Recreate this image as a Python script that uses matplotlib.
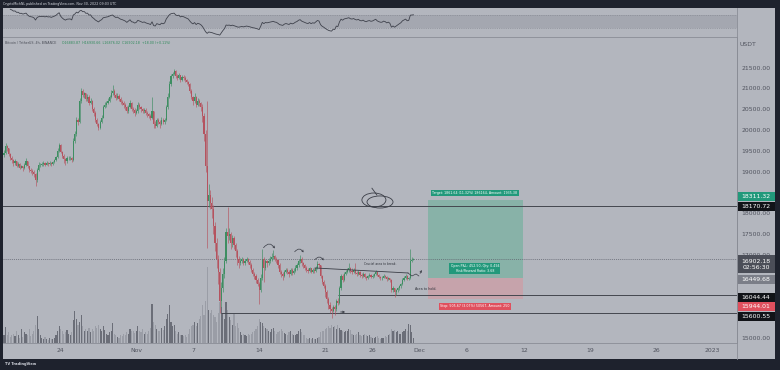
import numpy as np
import pandas as pd
import matplotlib
matplotlib.use('Agg')
import matplotlib.pyplot as plt
import matplotlib.dates as mdates
from matplotlib.patches import Rectangle, Ellipse
from matplotlib.ticker import FormatStrFormatter

# BTC/USDT 4h candles, 2022-10-18 00:00 -> 2022-11-30 08:00 UTC
first_open = 19400.0
closes = [
    19450, 19620, 19560, 19420, 19330, 19280,  # Oct 18
    19200, 19250, 19150, 19180, 19100, 19130,
    19080, 19160, 19250, 19130, 19050, 19020,
    19000, 18950, 18800, 19050, 19160, 19170,
    19190, 19200, 19170, 19220, 19190, 19210,
    19180, 19230, 19280, 19350, 19500, 19650,
    19480, 19380, 19300, 19250, 19320, 19330,  # Oct 24
    19340, 19290, 19750, 19900, 20250, 20200,
    20700, 20950, 20850, 20880, 20750, 20800,
    20650, 20700, 20500, 20400, 20250, 20150,
    20050, 20200, 20300, 20550, 20600, 20650,
    20700, 20800, 20900, 20950, 20850, 20780,
    20820, 20750, 20680, 20650, 20600, 20550,
    20450, 20550, 20650, 20500, 20480, 20400,
    20450, 20600, 20550, 20500, 20450, 20480,  # Nov 1
    20420, 20380, 20350, 20300, 20450, 20150,
    20100, 20250, 20200, 20150, 20250, 20200,
    20250, 20550, 20800, 21100, 21300, 21350,
    21420, 21300, 21250, 21320, 21200, 21280,
    21250, 21200, 21150, 21100, 20950, 20800,
    20700, 20800, 20600, 20700, 20650, 20550,  # Nov 7
    20350, 19900, 19150, 18300, 18450, 18250,
    18100, 17700, 17300, 16900, 16600, 15900,
    16200, 16550, 16850, 17550, 17450, 17500,
    17300, 17400, 17250, 17100, 16900, 16800,
    16850, 16900, 16800, 16850, 16900, 16830,
    16750, 16650, 16550, 16500, 16400, 16300,
    16150, 16450, 16900, 16700, 16850, 16800,  # Nov 14
    16850, 16900, 16950, 16980, 16900, 16870,
    16750, 16600, 16550, 16500, 16600, 16650,
    16600, 16550, 16650, 16580, 16620, 16700,
    16750, 16850, 16900, 16800, 16750, 16700,
    16650, 16620, 16680, 16600, 16650, 16620,
    16700, 16780, 16750, 16500, 16350, 16250,
    16100, 15950, 15800, 15700, 15650, 15750,  # Nov 21
    15700, 15900, 15850, 16200, 16500, 16400,
    16550, 16600, 16650, 16700, 16620, 16600,
    16650, 16580, 16550, 16600, 16520, 16500,
    16550, 16480, 16450, 16500, 16520, 16480,
    16500, 16550, 16600, 16520, 16480, 16450,
    16450, 16500, 16480, 16420, 16450, 16400,
    16150, 16200, 16100, 16150, 16200, 16250,  # Nov 28
    16300, 16400, 16450, 16500, 16420, 16440,
    16860, 16883.87, 16902.18,
]
highs = [
    19520, 19690, 19650, 19580, 19460, 19370,
    19310, 19300, 19270, 19230, 19200, 19170,
    19150, 19200, 19340, 19270, 19150, 19090,
    19060, 19040, 18980, 19100, 19240, 19220,
    19230, 19250, 19230, 19260, 19240, 19250,
    19230, 19260, 19310, 19390, 19560, 19690,
    19660, 19510, 19420, 19340, 19370, 19380,
    19390, 19350, 19800, 19980, 20310, 20280,
    20760, 21020, 20990, 20920, 20900, 20860,
    20840, 20760, 20720, 20550, 20450, 20300,
    20180, 20250, 20360, 20600, 20680, 20700,
    20760, 20850, 20960, 21080, 20980, 20880,
    20880, 20860, 20790, 20720, 20700, 20640,
    20580, 20600, 20730, 20680, 20560, 20520,
    20500, 20680, 20650, 20580, 20530, 20520,
    20520, 20460, 20420, 20380, 20800, 20470,
    20220, 20300, 20280, 20240, 20310, 20290,
    20300, 20600, 20880, 21180, 21360, 21400,
    21480, 21440, 21340, 21370, 21330, 21320,
    21320, 21290, 21230, 21180, 21130, 20980,
    20830, 20880, 20820, 20760, 20740, 20680,
    20620, 20400, 20000, 20700, 18700, 18550,
    18400, 18200, 17800, 17400, 17000, 16700,
    16350, 16700, 16950, 17650, 18150, 17650,
    17550, 17480, 17450, 17300, 17150, 16980,
    16920, 16950, 16930, 16900, 16960, 16920,
    16880, 16800, 16700, 16600, 16550, 16450,
    16350, 16550, 17150, 16950, 16900, 16890,
    16920, 16980, 17050, 17130, 17000, 16950,
    16900, 16800, 16650, 16600, 16650, 16700,
    16680, 16650, 16700, 16700, 16680, 16760,
    16800, 16900, 17000, 16950, 16840, 16790,
    16740, 16700, 16720, 16700, 16690, 16680,
    16740, 16850, 16820, 16770, 16530, 16400,
    16300, 16150, 16000, 15860, 15760, 15800,
    15800, 15950, 15960, 16250, 16550, 16550,
    16600, 16640, 16700, 16800, 16720, 16680,
    16700, 16800, 16620, 16650, 16620, 16560,
    16590, 16560, 16500, 16530, 16560, 16540,
    16540, 16580, 16650, 16620, 16550, 16500,
    16490, 16540, 16520, 16500, 16480, 16460,
    16420, 16260, 16220, 16190, 16240, 16280,
    16340, 16450, 16500, 16550, 16520, 16480,
    17150, 16950, 16930.66,
]
lows = [
    19360, 19420, 19500, 19380, 19290, 19220,
    19150, 19170, 19110, 19120, 19060, 19080,
    19030, 19060, 19140, 19100, 19000, 18970,
    18930, 18880, 18650, 18760, 19020, 19110,
    19130, 19150, 19140, 19160, 19150, 19170,
    19140, 19160, 19210, 19260, 19330, 19470,
    19440, 19330, 19220, 19160, 19220, 19280,
    19280, 19230, 19270, 19700, 19860, 20120,
    20180, 20660, 20800, 20780, 20700, 20710,
    20600, 20620, 20460, 20350, 20200, 20090,
    20000, 20020, 20160, 20280, 20520, 20560,
    20620, 20680, 20770, 20850, 20800, 20730,
    20740, 20700, 20620, 20600, 20540, 20480,
    20400, 20420, 20520, 20470, 20420, 20350,
    20380, 20420, 20500, 20440, 20400, 20410,
    20370, 20320, 20290, 20250, 20260, 20060,
    20040, 20070, 20150, 20050, 20120, 20150,
    20150, 20230, 20500, 20760, 21050, 21250,
    21320, 21260, 21200, 21220, 21150, 21180,
    21200, 21150, 21100, 21050, 20900, 20750,
    20600, 20660, 20550, 20580, 20580, 20470,
    20200, 19750, 19000, 17170, 18150, 18100,
    17900, 17500, 17100, 16700, 16300, 15600,
    15750, 16100, 16450, 16800, 17300, 17350,
    17150, 17200, 17150, 16950, 16750, 16700,
    16750, 16820, 16760, 16770, 16830, 16780,
    16700, 16600, 16500, 16420, 16330, 16250,
    15820, 16100, 16400, 16350, 16650, 16720,
    16760, 16800, 16860, 16900, 16850, 16800,
    16700, 16550, 16480, 16400, 16480, 16560,
    16540, 16480, 16520, 16530, 16550, 16590,
    16650, 16720, 16800, 16740, 16700, 16640,
    16600, 16580, 16590, 16560, 16570, 16580,
    16590, 16660, 16690, 16460, 16300, 16200,
    16000, 15850, 15700, 15600, 15480, 15620,
    15550, 15660, 15800, 15820, 16150, 16350,
    16380, 16520, 16560, 16600, 16580, 16550,
    16560, 16540, 16500, 16520, 16480, 16460,
    16480, 16440, 16400, 16430, 16470, 16440,
    16450, 16480, 16530, 16500, 16440, 16400,
    16400, 16440, 16440, 16380, 16400, 16350,
    16100, 16120, 16000, 16050, 16120, 16170,
    16220, 16280, 16370, 16430, 16390, 16400,
    16420, 16830, 16876.02,
]
# volume, thousand BTC
volumes = [
    26, 52, 26, 36, 20, 26,
    30, 22, 40, 25, 18, 45,
    20, 35, 30, 28, 45, 22,
    30, 40, 60, 88, 45, 25,
    15, 12, 20, 14, 10, 18,
    14, 12, 18, 25, 40, 55,
    45, 38, 30, 35, 42, 30,
    28, 35, 75, 105, 80, 60,
    70, 92, 55, 40, 45, 38,
    50, 35, 45, 40, 55, 48,
    60, 45, 38, 55, 42, 30,
    28, 35, 40, 65, 30, 25,
    20, 18, 25, 22, 30, 28,
    35, 30, 45, 40, 38, 33,
    40, 55, 38, 35, 45, 30,
    35, 30, 40, 50, 130, 70,
    60, 45, 40, 38, 50, 42,
    55, 80, 95, 127, 70, 55,
    60, 40, 30, 35, 28, 25,
    22, 25, 20, 30, 45, 55,
    60, 70, 55, 65, 80, 90,
    125, 92, 140, 250, 110, 100,
    108, 92, 85, 70, 100, 135,
    120, 95, 80, 135, 110, 85,
    75, 60, 95, 55, 65, 50,
    35, 28, 30, 25, 22, 30,
    25, 30, 35, 40, 45, 55,
    80, 70, 65, 55, 50, 45,
    40, 35, 45, 50, 38, 30,
    35, 40, 45, 38, 32, 30,
    28, 35, 40, 30, 25, 28,
    30, 38, 45, 35, 28, 25,
    15, 12, 18, 14, 16, 12,
    14, 18, 20, 35, 40, 38,
    45, 50, 55, 48, 60, 52,
    55, 45, 60, 50, 42, 38,
    35, 40, 38, 45, 42, 30,
    28, 25, 30, 35, 28, 22,
    25, 30, 28, 22, 26, 20,
    18, 15, 20, 22, 16, 14,
    15, 18, 22, 20, 25, 30,
    45, 38, 42, 35, 40, 30,
    30, 35, 40, 45, 38, 62,
    60, 35, 15,
]

date_ticks = ['2022-10-24', '2022-11-01', '2022-11-07', '2022-11-14', '2022-11-21',
              '2022-11-26', '2022-12-01', '2022-12-06', '2022-12-12', '2022-12-19',
              '2022-12-26', '2023-01-01']
date_labels = ['24', 'Nov', '7', '14', '21', '26', 'Dec', '6', '12', '19', '26', '2023']
price_ticks = [15000, 17000, 17500, 18000, 19000, 19500, 20000, 20500, 21000, 21500]

resistance = 18170.72
support = 16044.44
bottom_line = 15600.55
last_price = 16902.18
entry, target, stop = 16449.68, 18311.32, 15944.01

BG = '#b3b6be'
DARK = '#1e222d'
TXT = '#50535e'
UP = '#3e8e62'
DOWN = '#b5535f'

c = np.array(closes, dtype=float)
o = np.r_[first_open, c[:-1]]
h = np.maximum(np.array(highs, dtype=float), np.maximum(o, c))
l = np.minimum(np.array(lows, dtype=float), np.minimum(o, c))
times = pd.date_range('2022-10-18 00:00', periods=len(c), freq='4h')
t = mdates.date2num(times)

# RSI 14 (Wilder)
delta = pd.Series(c).diff()
avg_gain = delta.clip(lower=0).ewm(alpha=1/14, adjust=False).mean()
avg_loss = (-delta.clip(upper=0)).ewm(alpha=1/14, adjust=False).mean()
rsi = 100 - 100 / (1 + avg_gain / avg_loss)

fig = plt.figure(figsize=(7.8, 3.7), dpi=100)
fig.patch.set_facecolor(DARK)
fig.add_artist(Rectangle((3/780, 1-359/370), 772/780, 351/370, transform=fig.transFigure,
                         facecolor=BG, edgecolor='none', zorder=0))

ax = fig.add_axes([3/780, 1-343/370, 734/780, 306/370])
ind = fig.add_axes([3/780, 1-37/370, 734/780, 29/370], sharex=ax)
vol = ax.twinx()
ax.set_zorder(vol.get_zorder() + 1)
ax.patch.set_visible(False)
vol.patch.set_visible(False)

d24 = mdates.date2num(pd.Timestamp('2022-10-24'))
ax.set_xlim(d24 - 6.106, d24 + 71.57)
ax.set_ylim(14887, 22237)

# volume
up = c >= o
vol.bar(t, volumes, width=0.12, color=np.where(up, '#6b6e78', '#9a9da6'), linewidth=0)
vol.set_ylim(0, 1010)
vol.set_axis_off()

# candles
col = np.where(up, UP, DOWN)
ax.vlines(t, l, h, colors=col, lw=0.45, zorder=4)
ax.bar(t, np.abs(c - o), bottom=np.minimum(o, c), width=0.12, color=col, linewidth=0, zorder=4)

# long position tool
x0 = mdates.date2num(pd.Timestamp('2022-12-01 21:00'))
x1 = mdates.date2num(pd.Timestamp('2022-12-11 22:00'))
ax.add_patch(Rectangle((x0, entry), x1 - x0, target - entry, facecolor='#88b2a8', edgecolor='none', zorder=1))
ax.add_patch(Rectangle((x0, stop), x1 - x0, entry - stop, facecolor='#c6a3ab', edgecolor='none', zorder=1))
xm = mdates.date2num(pd.Timestamp('2022-12-06 20:00'))
ax.text(xm, 18490, 'Target: 1861.64 (11.32%) 186164, Amount: 1935.38', fontsize=2.3, color='white',
        ha='center', va='center', zorder=6, bbox=dict(boxstyle='square,pad=0.4', fc='#22997b', ec='none'))
ax.text(xm, 16677, 'Open P&L: 452.50, Qty: 0.494\nRisk/Reward Ratio: 3.68', fontsize=2.3, color='white',
        ha='center', va='center', linespacing=1.1, zorder=6,
        bbox=dict(boxstyle='square,pad=0.4', fc='#22997b', ec='none'))
ax.text(xm, 15764, 'Stop: 505.67 (3.07%) 50567, Amount: 250', fontsize=2.3, color='white',
        ha='center', va='center', zorder=6, bbox=dict(boxstyle='square,pad=0.4', fc='#e0505e', ec='none'))

# horizontal levels
ax.axhline(resistance, color='#44474f', lw=0.7, zorder=2)
ax.axhline(last_price, color='#5d606b', lw=0.5, ls=(0, (1.5, 1.5)), zorder=2)
xs = mdates.date2num(pd.Timestamp('2022-11-22 08:00'))
ax.hlines(support, xs, ax.get_xlim()[1], color='#44474f', lw=0.7, zorder=2)
xb = mdates.date2num(pd.Timestamp('2022-11-09 23:00'))
ax.hlines(bottom_line, xb, ax.get_xlim()[1], color='#44474f', lw=0.7, zorder=2)

# drawings
def d(s):
    return mdates.date2num(pd.Timestamp(s))

ink = '#3a3d46'
ax.plot([d('2022-11-19 22:00'), d('2022-11-29 18:00')], [16689, 16569], color=ink, lw=0.6, zorder=5)
ax.plot([d('2022-11-29 18:00'), d('2022-11-30 04:00'), d('2022-11-30 14:30'), d('2022-11-30 21:40')],
        [16569, 16497, 16545, 16497], color=ink, lw=0.5, zorder=5)
ax.annotate('', xy=(d('2022-12-01 08:00'), 16700), xytext=(d('2022-11-30 21:40'), 16497),
            arrowprops=dict(arrowstyle='->', lw=0.5, color=ink, mutation_scale=3), zorder=5)
ax.text(d('2022-11-26 19:00'), 16785, 'Crucial area to break.', fontsize=2.2, color='#2e3139',
        ha='center', va='center', zorder=6)
ax.text(d('2022-11-30 12:00'), 16184, 'Area to hold.', fontsize=2.4, color='#2e3139',
        ha='left', va='center', zorder=6)
for a, b, pa, pb in [('2022-11-14 07:00', '2022-11-15 19:00', 17121, 17097),
                     ('2022-11-17 14:00', '2022-11-18 20:00', 17025, 17001),
                     ('2022-11-19 17:00', '2022-11-20 23:00', 16833, 16809)]:
    ax.annotate('', xy=(d(b), pb), xytext=(d(a), pa),
                arrowprops=dict(arrowstyle='->', lw=0.5, color=ink, mutation_scale=3,
                                connectionstyle='arc3,rad=-0.9'), zorder=5)
ax.annotate('', xy=(d('2022-11-23 09:30'), 15632), xytext=(d('2022-11-22 08:00'), 15632),
            arrowprops=dict(arrowstyle='->', lw=0.6, color=ink, mutation_scale=3), zorder=5)
ax.add_patch(Ellipse((d('2022-11-26 03:30'), 18322), 2.54, 336, fill=False, ec=ink, lw=0.6, zorder=5))
ax.add_patch(Ellipse((d('2022-11-26 19:00'), 18274), 2.75, 290, fill=False, ec=ink, lw=0.6, zorder=5))
ax.plot([d('2022-11-25 22:30'), d('2022-11-26 11:00')], [18605, 18442], color=ink, lw=0.6, zorder=5)

# axes styling (levels hidden behind the price labels are left out)
ax.yaxis.tick_right()
ax.set_yticks(price_ticks)
ax.yaxis.set_major_formatter(FormatStrFormatter('%.2f'))
ax.tick_params(axis='y', length=0, pad=3, labelsize=4.4, labelcolor=TXT)
ax.set_xticks([d(s) for s in date_ticks])
ax.set_xticklabels(date_labels)
ax.tick_params(axis='x', length=0, pad=3.5, labelsize=4.4, labelcolor=TXT)
ax.spines['left'].set_visible(False)
for s in ['top', 'bottom', 'right']:
    ax.spines[s].set_color('#8a8d96')
    ax.spines[s].set_linewidth(0.6)

# RSI pane
ind.patch.set_visible(False)
ind.axhspan(30, 70, color='#a4a7b0', lw=0)
ind.axhline(70, color='#7f828c', lw=0.4, ls=(0, (2, 2)))
ind.axhline(30, color='#7f828c', lw=0.4, ls=(0, (2, 2)))
ind.plot(t[4:], rsi.values[4:], color='#3f424c', lw=0.6)
ind.set_ylim(2.3, 91.5)
ind.tick_params(bottom=False, labelbottom=False, left=False, labelleft=False)
for s in ind.spines.values():
    s.set_visible(False)

fig.add_artist(plt.Line2D([737/780, 737/780], [1-359/370, 1-8/370], transform=fig.transFigure,
                          color='#8a8d96', lw=0.6))

# texts
fig.text(3/780, 1-4.5/370, 'CryptoMichNL published on TradingView.com, Nov 30, 2022 09:03 UTC',
         color='#d1d4dc', fontsize=2.3, va='center')
fig.text(5/780, 1-43/370, 'Bitcoin / TetherUS, 4h, BINANCE', color='#4a4d57', fontsize=2.3, va='center')
fig.text(62/780, 1-43/370, 'O16883.87  H16930.66  L16876.02  C16902.18  +18.00 (+0.11%)',
         color='#2f8a5a', fontsize=2.3, va='center')
fig.text(740/780, 1-44/370, 'USDT', color=TXT, fontsize=4.4, va='center')
fig.text(5/780, 1-364.5/370, 'TV TradingView', color='#d1d4dc', fontsize=2.6, va='center', fontweight='bold')

# price scale labels
lab = fig.add_axes([737/780, 0, 38/780, 1])
lab.set_xlim(0, 38)
lab.set_ylim(370, 0)
lab.set_axis_off()
scale_labels = [('18311.32', 196, 9, '#22997b'), ('18170.72', 206, 9, '#111318'),
                ('16902.18\n02:56:30', 264, 18, '#4b4e58'), ('16449.68', 279, 9, '#7b7e88'),
                ('16044.44', 297, 9, '#111318'), ('15944.01', 306, 9, '#e0505e'),
                ('15600.55', 316, 9, '#111318')]
for txt, yc, hh, fc in scale_labels:
    lab.add_patch(Rectangle((0, yc - hh / 2), 38, hh, facecolor=fc, edgecolor='none'))
    lab.text(19, yc + 0.3, txt, color='white', fontsize=4.4, ha='center', va='center', linespacing=1.25)

fig.savefig('out.png', dpi=100, facecolor=fig.get_facecolor())
